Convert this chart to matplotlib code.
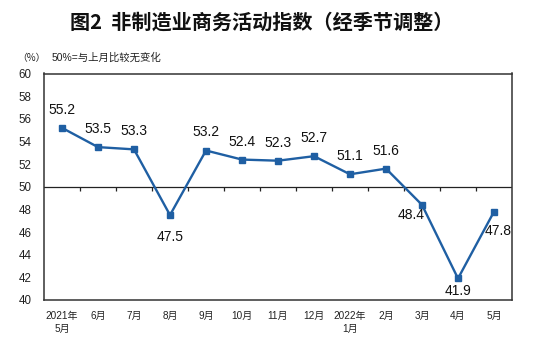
import matplotlib
matplotlib.use("Agg")
import matplotlib.pyplot as plt
import numpy as np

# Monthly non-manufacturing business activity index (seasonally adjusted)
months = ["2021年\n5月", "6月", "7月", "8月", "9月", "10月", "11月", "12月",
          "2022年\n1月", "2月", "3月", "4月", "5月"]
index_values = [55.2, 53.5, 53.3, 47.5, 53.2, 52.4, 52.3, 52.7, 51.1, 51.6, 48.4, 41.9, 47.8]
y_ticks = [40, 42, 44, 46, 48, 50, 52, 54, 56, 58, 60]

# label offsets in points (dx, dy) for each value label
label_offsets = [(0, 13), (0, 13), (0, 13), (0, -16), (0, 13), (0, 13), (0, 13), (0, 13),
                 (0, 13), (0, 13), (-8, -7), (0, -9), (3, -14)]

cjk = ["Liberation Sans", "Noto Sans CJK SC", "DejaVu Sans"]
line_color = "#1f5fa3"

fig = plt.figure(figsize=(5.53, 3.43), dpi=100)
ax = fig.add_axes([44 / 553, 1 - 300 / 343, 468 / 553, (300 - 73.5) / 343])

x = np.arange(len(months))
ax.plot(x, index_values, color=line_color, lw=1.7, marker="s", ms=4.5,
        mfc=line_color, mec=line_color, zorder=3)

ax.set_xlim(-0.5, len(months) - 0.5)
ax.set_ylim(y_ticks[0], y_ticks[-1])
ax.set_yticks(y_ticks)
ax.set_yticklabels([str(v) for v in y_ticks], family="Liberation Sans", fontsize=8.3,
                   color="#222222")
ax.set_xticks(x)
ax.set_xticklabels(months, family=cjk, fontsize=7.2, color="#222222", linespacing=1.3)
ax.tick_params(axis="both", length=0)
ax.tick_params(axis="y", pad=9)
ax.tick_params(axis="x", pad=8)

for sp in ax.spines.values():
    sp.set_color("#333333")
    sp.set_linewidth(1.1)

# reference line at 50 with category separators hanging below it
ax.axhline(50, color="#222222", lw=0.9, zorder=2)
bounds = np.arange(len(months) - 1) + 0.5
ax.vlines(bounds, 50 - 0.35, 50, color="#222222", lw=0.9, zorder=2)

for xi, v, (dx, dy) in zip(x, index_values, label_offsets):
    ax.annotate(f"{v:.1f}", (xi, v), xytext=(dx, dy), textcoords="offset points",
                ha="center", va="center", fontsize=10, family="Liberation Sans",
                color="#111111", zorder=4)

fig.text(262 / 553, 1 - 22 / 343, "图2  非制造业商务活动指数（经季节调整）",
         ha="center", va="center", fontsize=14.5, fontweight="bold",
         family=["Noto Sans CJK SC", "DejaVu Sans"], color="#111111")
fig.text(17 / 553, 1 - 58 / 343, "（%）", ha="left", va="center", fontsize=7,
         family=["Noto Sans CJK SC", "DejaVu Sans"], color="#222222")
fig.text(52 / 553, 1 - 58 / 343, "50%=与上月比较无变化", ha="left", va="center",
         fontsize=7.5, family=cjk, color="#222222")

fig.savefig("out.png", dpi=100)
